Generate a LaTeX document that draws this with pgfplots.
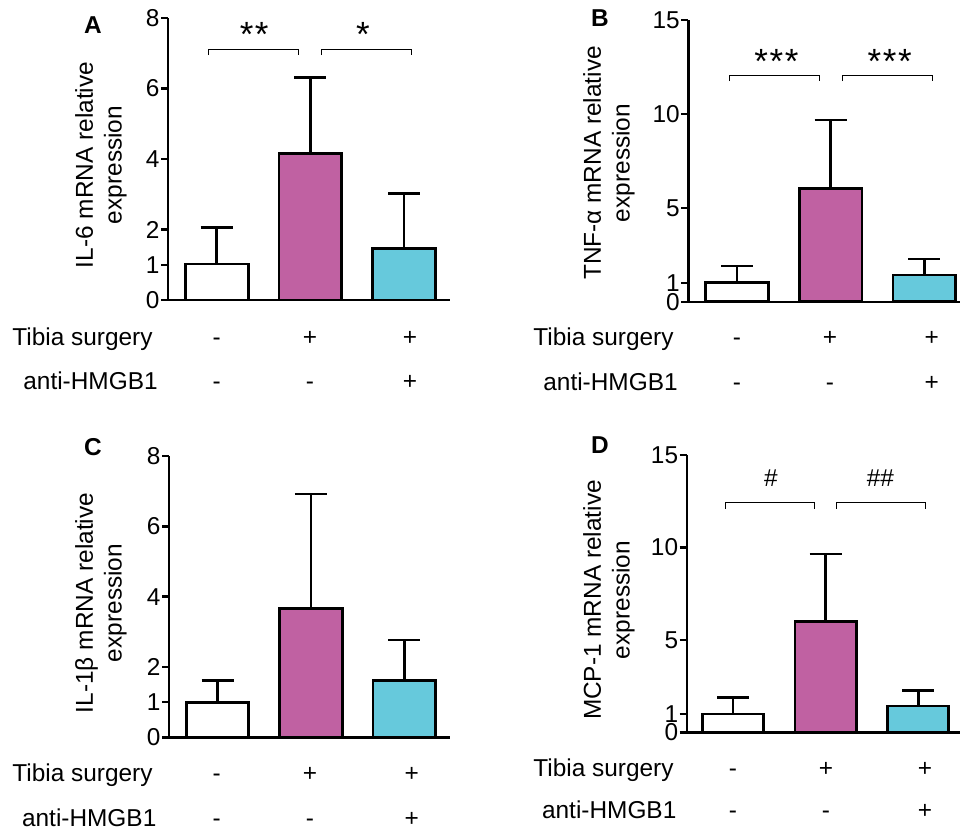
\documentclass[border=0pt]{standalone}
\usepackage{pgfplots}
\pgfplotsset{compat=1.18}
\usepackage{fontspec}
\setmainfont{Liberation Sans}
\definecolor{mag}{HTML}{C061A2}
\definecolor{cyn}{HTML}{66C9DC}
\newcommand{\fs}{\fontsize{12.2}{14.4}\selectfont}
\newcommand{\fst}{\fontsize{17.5}{18}\selectfont}
\newcommand{\stars}[1]{\ifcase#1\or*\or*\kern0.8pt*\or*\kern0.8pt*\kern0.8pt*\fi}
\pgfplotsset{
 panel/.style={
  scale only axis, axis lines*=left, clip=false,
  ymin=0, xtick=\empty,
  axis line style={line width=1.2pt, black},
  ytick style={line width=1.2pt, black},
  major tick length=3.5pt,
  tick align=outside,
  tick label style={font=\fs},
  yticklabel style={inner sep=0.6pt},
  /pgf/number format/assume math mode=true,
  ybar, bar width=0.67,
 },
 bars/.style={draw=black, line width=1.4pt, bar shift=0pt,
   error bars/y dir=plus, error bars/y explicit,
   error bars/error mark=|,
   error bars/error bar style={line width=1.4pt, black},
   error bars/error mark options={mark size=8pt, line width=1.4pt, black}},
}
\begin{document}
\begin{tikzpicture}
\path[use as bounding box] (0,0) rectangle (480pt,-415.5pt);

% ---------- A ----------
\begin{axis}[panel, at={(84pt,-150pt)}, anchor=south west,
  width=141pt, height=141pt, xmin=-0.52, xmax=2.49, ymax=8,
  ytick={0,1,2,4,6,8}]
\addplot[bars, fill=white] coordinates {(0,1.02) +- (0,1.03)};
\addplot[bars, fill=mag]   coordinates {(1,4.16) +- (0,2.15)};
\addplot[bars, fill=cyn]   coordinates {(2,1.47) +- (0,1.56)};
\draw[line width=0.5pt] (axis cs:-0.09,6.95) -- (axis cs:-0.09,7.12) -- (axis cs:0.87,7.12) -- (axis cs:0.87,6.95);
\draw[line width=0.5pt] (axis cs:1.12,6.95) -- (axis cs:1.12,7.12) -- (axis cs:2.08,7.12) -- (axis cs:2.08,6.95);
\node[anchor=base, inner sep=0pt, font=\fst] at (axis cs:0.40,7.19) {\stars2};
\node[anchor=base, inner sep=0pt, font=\fst] at (axis cs:1.56,7.19) {\stars1};
\end{axis}

% ---------- B ----------
\begin{axis}[panel, at={(344.15pt,-150.85pt)}, anchor=south west,
  width=135.85pt, height=140.85pt, xmin=-0.52, xmax=2.38, ymax=15,
  ytick={0,1,5,10,15}]
\addplot[bars, fill=white] coordinates {(0,1.03) +- (0,0.87)};
\addplot[bars, fill=mag]   coordinates {(1,6.04) +- (0,3.64)};
\addplot[bars, fill=cyn]   coordinates {(2,1.42) +- (0,0.85)};
\draw[line width=0.5pt] (axis cs:-0.08,11.75) -- (axis cs:-0.08,12.07) -- (axis cs:0.876,12.07) -- (axis cs:0.876,11.75);
\draw[line width=0.5pt] (axis cs:1.13,11.75) -- (axis cs:1.13,12.07) -- (axis cs:2.09,12.07) -- (axis cs:2.09,11.75);
\node[anchor=base, inner sep=0pt, font=\fst] at (axis cs:0.42,12.17) {\stars3};
\node[anchor=base, inner sep=0pt, font=\fst] at (axis cs:1.63,12.17) {\stars3};
\end{axis}

% ---------- C ----------
\begin{axis}[panel, at={(84.5pt,-368.65pt)}, anchor=south west,
  width=140.5pt, height=140.65pt, xmin=-0.52, xmax=2.49, ymax=8,
  ytick={0,1,2,4,6,8}]
\addplot[bars, fill=white] coordinates {(0,0.98) +- (0,0.63)};
\addplot[bars, fill=mag]   coordinates {(1,3.67) +- (0,3.25)};
\addplot[bars, fill=cyn]   coordinates {(2,1.61) +- (0,1.16)};
\end{axis}

% ---------- D ----------
\begin{axis}[panel, at={(343.35pt,-366.15pt)}, anchor=south west,
  width=136.65pt, height=138.65pt, xmin=-0.50, xmax=2.45, ymax=15,
  ytick={0,1,5,10,15}, bar width=0.66]
\addplot[bars, fill=white] coordinates {(0,0.99) +- (0,0.90)};
\addplot[bars, fill=mag]   coordinates {(1,5.98) +- (0,3.66)};
\addplot[bars, fill=cyn]   coordinates {(2,1.42) +- (0,0.83)};
\draw[line width=0.5pt] (axis cs:-0.08,12.08) -- (axis cs:-0.08,12.44) -- (axis cs:0.88,12.44) -- (axis cs:0.88,12.08);
\draw[line width=0.5pt] (axis cs:1.12,12.08) -- (axis cs:1.12,12.44) -- (axis cs:2.08,12.44) -- (axis cs:2.08,12.08);
\node[anchor=base, inner sep=0pt, font=\fs] at (axis cs:0.41,13.3) {\#};
\node[anchor=base, inner sep=0pt, font=\fs] at (axis cs:1.59,13.3) {\#\#};
\end{axis}

\begin{scope}[x=0.5pt, y=-0.5pt, every node/.style={font=\fs, inner sep=0pt}]
% panel letters
\node[font=\fs\bfseries] at (93,25) {A};
\node[font=\fs\bfseries] at (600,18) {B};
\node[font=\fs\bfseries] at (93,447) {C};
\node[font=\fs\bfseries] at (600,445) {D};
% y labels
\node[rotate=90, align=center] at (101,165) {IL-6 mRNA relative\\expression};
\node[rotate=90, align=center] at (609,163) {TNF-α mRNA relative\\expression};
\node[rotate=90, align=center] at (101,603) {IL-1β mRNA relative\\expression};
\node[rotate=90, align=center] at (609,600) {MCP-1 mRNA relative\\expression};
% rows A
\node[anchor=base west] at (12,345) {Tibia surgery};
\node[anchor=base west] at (23,389) {anti-HMGB1};
\node[anchor=base] at (216.7,345) {-};
\node[anchor=base] at (310,345) {+};
\node[anchor=base] at (410,345) {+};
\node[anchor=base] at (216.7,389) {-};
\node[anchor=base] at (310,389) {-};
\node[anchor=base] at (410,389) {+};
% rows B
\node[anchor=base west] at (533,345) {Tibia surgery};
\node[anchor=base west] at (543,390) {anti-HMGB1};
\node[anchor=base] at (737,345) {-};
\node[anchor=base] at (830,345) {+};
\node[anchor=base] at (931.7,345) {+};
\node[anchor=base] at (737,390) {-};
\node[anchor=base] at (830,390) {-};
\node[anchor=base] at (931.7,390) {+};
% rows C
\node[anchor=base west] at (12,781.7) {Tibia surgery};
\node[anchor=base west] at (21.7,826.7) {anti-HMGB1};
\node[anchor=base] at (216.7,781.7) {-};
\node[anchor=base] at (310,781.7) {+};
\node[anchor=base] at (411.7,781.7) {+};
\node[anchor=base] at (216.7,826.7) {-};
\node[anchor=base] at (310,826.7) {-};
\node[anchor=base] at (411.7,826.7) {+};
% rows D
\node[anchor=base west] at (533,776.7) {Tibia surgery};
\node[anchor=base west] at (541.7,818.3) {anti-HMGB1};
\node[anchor=base] at (733,776.7) {-};
\node[anchor=base] at (826,776.7) {+};
\node[anchor=base] at (925,776.7) {+};
\node[anchor=base] at (733,818.3) {-};
\node[anchor=base] at (826,818.3) {-};
\node[anchor=base] at (925,818.3) {+};
\end{scope}
\end{tikzpicture}
\end{document}
